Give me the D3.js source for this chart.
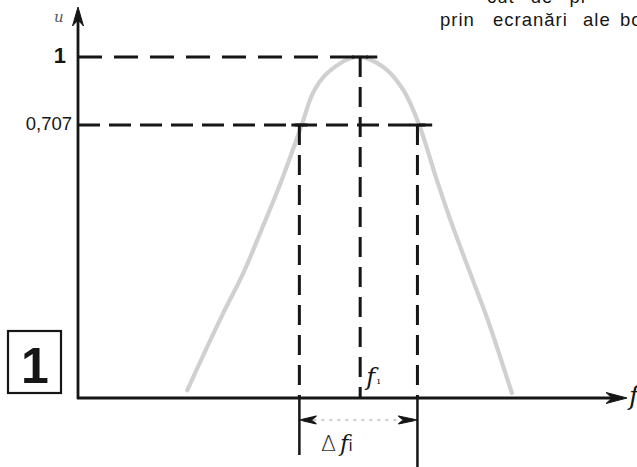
<!DOCTYPE html>
<html>
<head>
<meta charset="utf-8">
<script src="https://cdn.jsdelivr.net/npm/d3@7"></script>
<style>
  html, body { margin: 0; padding: 0; background: #fff; }
  svg { display: block; }
</style>
</head>
<body>
<svg id="chart" width="637" height="467"></svg>
<script>
// ---- data ----
// response curve: relative frequency (f - f0) in units of half bandwidth, amplitude u/umax
const curveF = [-2.90, -2.63, -2.29, -1.96, -1.63, -1.31, -0.96, -0.77, -0.53, -0.02, 0.42, 0.76, 1.03, 1.30, 1.57, 1.86, 2.18, 2.50, 2.60];
const curveU = [0.02, 0.11, 0.22, 0.32, 0.44, 0.56, 0.707, 0.845, 0.93, 1.00, 0.957, 0.858, 0.707, 0.578, 0.456, 0.337, 0.207, 0.06, 0.013];

// y tick values and labels
const yTickValues = [1, 0.707];
const yTickLabels = ["1", "0,707"];
// horizontal dashed guide lines: level and the frequency where each ends
const guideLevels = [1, 0.707];
const guideEndF = [0.32, 1.25];
// vertical dashed markers: frequency and the level where each starts
const markerF = [-1, 0.03, 1];
const markerTop = [0.707, 1, 0.707];
// band limits for the Δf arrow
const bandF = [-1, 1];

// ---- scales ----
const x = d3.scaleLinear().domain([-4.75, 4.55]).range([78, 627]);
// schematic (non-proportional) amplitude axis, as drawn
const y = d3.scaleLinear().domain([0, 0.707, 1]).range([398, 125, 57]);

const svg = d3.select("#chart");
const ink = "#161616";

// ---- text at top right (page text) ----
svg.append("text").attr("x", 487).attr("y", 3)
  .attr("font-family", "Liberation Sans, Arial, sans-serif").attr("font-size", 18.5)
  .attr("letter-spacing", 1).attr("word-spacing", 10).attr("fill", ink)
  .text("cut  de  pr");
const words = [["prin", 440], ["ecranări", 493], ["ale", 583], ["bo", 620]];
svg.append("g").selectAll("text").data(words).join("text")
  .attr("x", d => d[1]).attr("y", 26)
  .attr("font-family", "Liberation Sans, Arial, sans-serif").attr("font-size", 18.5)
  .attr("letter-spacing", 1).attr("fill", ink)
  .text(d => d[0]);

// ---- curve ----
const pts = curveF.map((f, i) => [f, curveU[i]]);
svg.append("path")
  .attr("d", d3.line().x(d => x(d[0])).y(d => y(d[1])).curve(d3.curveCatmullRom.alpha(0.5))(pts))
  .attr("fill", "none").attr("stroke", "#d0d0d0").attr("stroke-width", 4.2)
  .attr("stroke-linecap", "round");

// ---- horizontal dashed guides ----
svg.append("g").selectAll("line").data(guideLevels).join("line")
  .attr("x1", x.range()[0]).attr("x2", (d, i) => x(guideEndF[i]))
  .attr("y1", d => y(d)).attr("y2", d => y(d))
  .attr("stroke", ink).attr("stroke-width", 3)
  .attr("stroke-dasharray", (d, i) => i === 0 ? "24 12" : "22 9");

// ---- vertical dashed markers ----
svg.append("g").selectAll("line").data(markerF).join("line")
  .attr("x1", d => x(d)).attr("x2", d => x(d))
  .attr("y1", (d, i) => y(markerTop[i])).attr("y2", y(0))
  .attr("stroke", ink).attr("stroke-width", 3)
  .attr("stroke-dasharray", "20 10");
// short caps at the top of each marker
svg.append("g").selectAll("line").data(markerF).join("line")
  .attr("x1", d => x(d) - 8).attr("x2", d => x(d) + 8)
  .attr("y1", (d, i) => y(markerTop[i])).attr("y2", (d, i) => y(markerTop[i]))
  .attr("stroke", ink).attr("stroke-width", 3);

// solid extensions below the axis for the band limits
const extBottom = [455, 467];
svg.append("g").selectAll("line").data(bandF).join("line")
  .attr("x1", d => x(d)).attr("x2", d => x(d))
  .attr("y1", y(0)).attr("y2", (d, i) => extBottom[i])
  .attr("stroke", ink).attr("stroke-width", 2.5);

// Δf double arrow
const ay = 420;
svg.append("line")
  .attr("x1", x(bandF[0]) + 14).attr("x2", x(bandF[1]) - 18)
  .attr("y1", ay).attr("y2", ay)
  .attr("stroke", "#9a9a9a").attr("stroke-width", 1.2).attr("stroke-dasharray", "3 5");
const xl = x(bandF[0]), xr = x(bandF[1]);
svg.append("path")
  .attr("d", `M${xl},${ay} L${xl + 17},${ay - 4} L${xl + 12},${ay} L${xl + 17},${ay + 4} Z`)
  .attr("fill", ink).attr("stroke", ink).attr("stroke-width", 1.2);
svg.append("path")
  .attr("d", `M${xr},${ay} L${xr - 19},${ay - 4} L${xr - 14},${ay} L${xr - 19},${ay + 4} Z`)
  .attr("fill", ink).attr("stroke", ink).attr("stroke-width", 1.2);

// ---- axes ----
const x0 = x.range()[0], y0 = y(0);
// y axis
svg.append("line").attr("x1", x0).attr("x2", x0).attr("y1", y0 + 1).attr("y2", 12)
  .attr("stroke", ink).attr("stroke-width", 2.8);
svg.append("path")
  .attr("d", `M${x0},7 L${x0 - 5.5},26 L${x0},20 L${x0 + 5.5},26 Z`)
  .attr("fill", ink).attr("stroke", ink).attr("stroke-width", 1);
// x axis
svg.append("line").attr("x1", x0 - 1).attr("x2", x.range()[1] - 8).attr("y1", y0).attr("y2", y0)
  .attr("stroke", ink).attr("stroke-width", 3);
const xe = x.range()[1];
svg.append("path")
  .attr("d", `M${xe},${y0} L${xe - 21},${y0 - 5.5} L${xe - 15},${y0} L${xe - 21},${y0 + 5.5} Z`)
  .attr("fill", ink).attr("stroke", ink).attr("stroke-width", 1);

// y tick labels
const tickFont = [22, 18.5];
const tickX = [66, 72];
const tickDy = [6, 5];
svg.append("g").selectAll("text").data(yTickValues).join("text")
  .attr("x", (d, i) => tickX[i]).attr("y", (d, i) => y(d) + tickDy[i])
  .attr("text-anchor", "end")
  .attr("font-family", "Liberation Sans Narrow, Liberation Sans, Arial, sans-serif")
  .attr("font-size", (d, i) => tickFont[i])
  .attr("font-weight", (d, i) => i === 0 ? "bold" : "normal")
  .attr("fill", ink)
  .text((d, i) => yTickLabels[i]);

// axis names
svg.append("text").attr("x", 54).attr("y", 22)
  .attr("font-family", "DejaVu Serif, serif").attr("font-style", "italic").attr("font-size", 15)
  .attr("fill", "#555").text("u");
svg.append("text").attr("x", 629).attr("y", 405)
  .attr("font-family", "DejaVu Serif, serif").attr("font-style", "italic").attr("font-size", 26)
  .attr("fill", ink).text("f");

// f_i label at the centre marker
const fi = svg.append("text").attr("x", x(markerF[1]) + 6).attr("y", 385)
  .attr("font-family", "DejaVu Serif, serif").attr("font-style", "italic").attr("font-size", 24)
  .attr("fill", ink);
fi.append("tspan").text("f");
fi.append("tspan").attr("font-size", 10).attr("dx", 2).attr("dy", -1).attr("font-style", "normal").text("ı");

// Δf_i label
const df = svg.append("text").attr("x", 321).attr("y", 451)
  .attr("font-family", "DejaVu Sans, sans-serif").attr("font-size", 22)
  .attr("fill", "#333");
df.append("tspan").attr("font-weight", 200).text("Δ");
df.append("tspan").attr("dx", 4).attr("font-family", "DejaVu Serif, serif").attr("font-style", "italic").attr("font-size", 23).attr("fill", ink).text("f");
df.append("tspan").attr("font-family", "DejaVu Sans, sans-serif").attr("font-size", 15).attr("fill", ink).text("i");

// boxed figure number
svg.append("rect").attr("x", 8).attr("y", 331).attr("width", 53).attr("height", 62)
  .attr("fill", "none").attr("stroke", ink).attr("stroke-width", 2.2);
svg.append("text").attr("x", 35).attr("y", 383).attr("text-anchor", "middle")
  .attr("font-family", "Liberation Sans, Arial, sans-serif").attr("font-weight", "bold")
  .attr("font-size", 50).attr("fill", ink).text("1");
</script>
</body>
</html>
